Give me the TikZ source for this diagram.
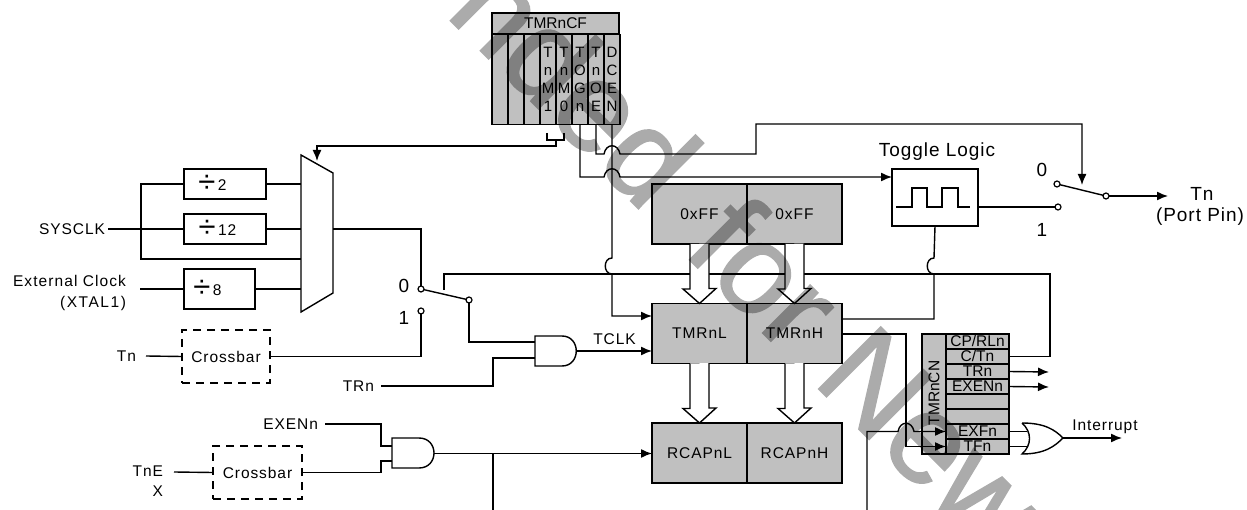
\documentclass[tikz,border=0pt]{standalone}
\usepackage{fontspec}
\setmainfont{Liberation Sans}
\newfontfamily\wmfont[FakeBold=1.5]{Liberation Sans}
\usetikzlibrary{arrows.meta,calc}
\definecolor{regfill}{RGB}{192,192,192}
\tikzset{
  wire/.style={line width=1.4pt,line join=miter,line cap=butt},
  tipped/.style={wire,-{Latex[length=11pt,width=9pt]}},
  plain/.style={draw=black,line width=1.4pt,fill=white,inner sep=0pt,outer sep=0pt,
    font=\fontsize{15.5}{18}\selectfont\addfontfeature{LetterSpace=6}},
  dashbox/.style={plain,dash pattern=on 8pt off 6pt,fill=none},
  reg/.style={plain,fill=regfill,font=\fontsize{15.5}{18}\selectfont},
  blk/.style={reg,minimum width=95,minimum height=60,
    font=\fontsize{15.5}{18}\selectfont\addfontfeature{LetterSpace=6}},
  regrow/.style={reg,minimum width=63,minimum height=15,text height=10,text depth=0},
  colcell/.style={reg,minimum width=16,minimum height=90},
  contact/.style={circle,draw=black,line width=1.2pt,fill=white,inner sep=0pt,minimum size=6pt,outer sep=0pt},
  lab/.style={inner sep=0pt,outer sep=0pt,font=\fontsize{15.5}{18}\selectfont\addfontfeature{LetterSpace=6}},
  biglab/.style={inner sep=0pt,outer sep=0pt,font=\fontsize{19}{22}\selectfont\addfontfeature{LetterSpace=5}},
  gate/.style={inner sep=0pt,outer sep=0pt,draw=none,fill=none},
  hollow/.style={draw=black,line width=1.4pt,fill=white,line join=miter}
}
\newcommand{\dv}[2]{\hspace*{#2}{\fontsize{31}{20}\selectfont\raisebox{-2pt}{÷}}\,#1}
\begin{document}
\begin{tikzpicture}[x=1pt,y=-1pt]
\useasboundingbox (0,0) rectangle (1247,510);

% ---- nodes: TMRnCF
\node[reg,minimum width=127,minimum height=21] (cfhead) at (555.5,23.5) {TMRnCF};
\foreach \n/\x in {ca/500,cb/516,cc/532}
  \node[colcell] (\n) at (\x,79.5) {};
\node[colcell,align=center,font=\fontsize{15}{18}\selectfont] (tm1) at (548,79.5) {T\\n\\M\\1};
\node[colcell,align=center,font=\fontsize{15}{18}\selectfont] (tm0) at (564,79.5) {T\\n\\M\\0};
\node[colcell,align=center,font=\fontsize{15}{18}\selectfont] (tog) at (580,79.5) {T\\O\\G\\n};
\node[colcell,align=center,font=\fontsize{15}{18}\selectfont] (toe) at (596,79.5) {T\\n\\O\\E};
\node[colcell,align=center,font=\fontsize{15}{18}\selectfont] (dcen) at (612,79.5) {D\\C\\E\\N};

% ---- clock dividers and mux
\node[plain,minimum width=82,minimum height=30] (d2) at (225,184) {\dv{2}{-25pt}};
\node[plain,minimum width=82,minimum height=30] (d12) at (225,229) {\dv{12}{-15pt}};
\node[plain,minimum width=71,minimum height=40] (d8) at (219.5,289) {\dv{8}{-24pt}};
\node[gate,minimum width=32,minimum height=157] (mux) at (317,233.5) {};
\draw[wire,fill=white] (301,155) -- (333,173) -- (333,293) -- (301,312) -- cycle;
\node[lab,anchor=east] (sys) at (105,229) {SYSCLK};
\node[lab,anchor=east] (ext1) at (126,281) {\addfontfeature{LetterSpace=7}External Clock};
\node[lab,anchor=east] (ext2) at (126,303) {\addfontfeature{LetterSpace=10}(XTAL1)};
\node[lab,anchor=east] (tnlab) at (136,356) {Tn};
\node[dashbox,minimum width=88,minimum height=53] (cb1) at (226,356.5) {Crossbar};
\node[lab,anchor=east] (trn) at (374,386) {TRn};
\node[biglab] (zero1) at (404,286) {0};
\node[biglab] (one1) at (404,318) {1};
\node[contact] (c0) at (421,289) {};
\node[contact] (c1) at (421,311) {};
\node[contact] (piv) at (469,300) {};

% AND gates
\node[gate,minimum width=42,minimum height=30] (and1) at (556,351) {};
\draw[wire] (535,336) -- (562,336) .. controls (581,336) and (581,366) .. (562,366) -- (535,366) -- cycle;
\node[gate,minimum width=42,minimum height=30] (and2) at (413,453) {};
\draw[wire] (392,438) -- (419,438) .. controls (439,438) and (439,468) .. (419,468) -- (392,468) -- cycle;
\node[lab,anchor=east] (exen) at (318,424) {EXENn};
\node[lab,anchor=east] (tne1) at (163,471) {TnE};
\node[lab,anchor=east] (tne2) at (163,491) {X};
\node[dashbox,minimum width=89,minimum height=53] (cb2) at (257.5,472.5) {Crossbar};

% counter blocks
\node[blk] (ffl) at (699.5,214) {0xFF};
\node[blk] (ffr) at (794.5,214) {0xFF};
\node[blk] (tl) at (699.5,333.5) {TMRnL};
\node[blk] (th) at (794.5,333.5) {TMRnH};
\node[blk] (rl) at (699.5,453) {RCAPnL};
\node[blk] (rh) at (794.5,453) {RCAPnH};
\node[lab] (tclk) at (614.5,339) {TCLK};

% toggle
\node[plain,minimum width=86,minimum height=57] (tog2) at (935,197.5) {};
\node[biglab] (toglab) at (937,152) {Toggle Logic};
\draw[wire] (896,207) -- (912,207) -- (912,188) -- (927,188) -- (927,207) -- (942,207) -- (942,188) -- (958,188) -- (958,207) -- (970,207);
\node[contact] (o0) at (1057,184) {};
\node[contact] (o1) at (1058,207) {};
\node[contact] (opiv) at (1106,196) {};
\node[biglab] (zero2) at (1042,170) {0};
\node[biglab] (one2) at (1042,230) {1};
\node[biglab] (port1) at (1202,194) {Tn};
\node[biglab] (port2) at (1200,217) {(Port Pin)};
\coordinate (ptip) at (1168,196);
\coordinate (swctl) at (1082,185);

% TMRnCN register
\node[reg,minimum width=24,minimum height=120] (cnside) at (934,394) {};
\node[inner sep=0pt,rotate=90,font=\fontsize{15.5}{18}\selectfont] (cnlab) at (934,393) {TMRnCN};
\foreach \n/\y/\t in {rcp/341.5/CP\slash RLn,rct/356.5/C\slash Tn,rtr/371.5/TRn,rex/386.5/EXENn,re1/401.5/,re2/416.5/,rxf/431.5/EXFn,rtf/446.5/TFn}
  \node[regrow] (\n) at (977.5,\y) {\t};
\draw[wire] (cnside.north west) rectangle (rtf.south east);
\coordinate (trnend) at (1049,372);
\coordinate (exend) at (1049,387);

% OR gate
\node[gate,minimum width=41,minimum height=31] (orgate) at (1042.5,438.5) {};
\coordinate (ora) at (1027,431.5);
\coordinate (orb) at (1027,446.5);
\draw[wire] (1022,423) .. controls (1045,423) and (1055,430) .. (1063,438) .. controls (1055,446) and (1045,454) .. (1022,454) .. controls (1032,445) and (1032,432) .. (1022,423);
\node[lab] (intlab) at (1105,427) {Interrupt};
\coordinate (intend) at (1122,438);

% ---- connectors
\draw[wire] (547,133) -- (547,140) -- (564,140) -- (564,133);
\draw[tipped] (556,140) -- (556,146) -| (317,161);
\draw[wire] (sys.east) ++(3,0) -- (d12.west);
\draw[wire] (d2.west) -- (141,184) |- (mux.west |- 0,259);
\draw[wire] (d2.east) -- (mux.west |- d2);
\draw[wire] (d12.east) -- (mux.west |- d12);
\draw[wire] (d8.east) -- (mux.west |- d8);
\draw[wire] (140,289) -- (d8.west);
\draw[wire] (146,356) -- (cb1.west);
\draw[wire] (cb1.east) -| (c1.south);
\draw[wire] (333,229) -| (c0.north);
\draw[wire] (c0) -- (piv);
\draw[wire] (piv.south) |- (and1.west |- 0,342);
\draw[wire] (trn.east) ++(7,0) -| (493,358) -- (and1.west |- 0,358);
\draw[tipped] (577,351) -- (tl.west |- 0,351);
\draw[tipped] (dcen.south) -- (612,258) .. controls (603,258) and (603,274) .. (612,274) |- (tl.west |- 0,316);
\draw[wire] (444,290) |- (1050,274) |- (rct.east);
\draw[tipped] (tog.south) |- (604,177) .. controls (606,166) and (618,166) .. (620,177) -- (tog2.west |- 0,177);
\draw[tipped] (toe.south) |- (604,154) .. controls (606,143) and (618,143) .. (620,154) -- (756,154) |- (1082,124) -- (swctl);
\draw[wire] (tog2.south) -- (934,258) .. controls (925,258) and (925,274) .. (934,274) |- (th.east |- 0,319);
\draw[wire] (tog2.east |- o1) -- (o1.west);
\draw[wire] (o0) -- (opiv);
\draw[tipped] (opiv.east) -- (ptip);
\draw[tipped] (th.east |- 0,334) -| (906,446.5) -- (rtf.west);
\draw[tipped] (867,510) |- (898,431.5) .. controls (900,420.5) and (912,420.5) .. (914,431.5) -- (rxf.west);
\draw[tipped] (rtr.east) -- (trnend);
\draw[tipped] (rex.east) -- (exend);
\draw[wire] (rxf.east) -- (ora);
\draw[wire] (rtf.east) -- (orb);
\draw[tipped] (1063,438) -- (intend);
\draw[wire] (exen.east) ++(7,0) -| (381,446) -- (and2.west |- 0,446);
\draw[wire] (174,472) -- (cb2.west);
\draw[wire] (cb2.east) -| (381,461) -- (and2.west |- 0,461);
\draw[tipped] (434,453.5) -- (rl.west |- 0,453.5);
\draw[wire] (493,453.5) -- (493,510);

% hollow bus arrows
\draw[hollow] (ffl.south) ++(-9.5,0) -- ++(0,45) -- ++(-7,0) -- (tl.north) -- ++(16.5,-15) -- ++(-7,0) -- ++(0,-45);
\draw[hollow] (ffr.south) ++(-9.5,0) -- ++(0,45) -- ++(-7,0) -- (th.north) -- ++(16.5,-15) -- ++(-7,0) -- ++(0,-45);
\draw[hollow] (tl.south) ++(-9.5,0) -- ++(0,45) -- ++(-7,0) -- (rl.north) -- ++(16.5,-15) -- ++(-7,0) -- ++(0,-45);
\draw[hollow] (th.south) ++(-9.5,0) -- ++(0,45) -- ++(-7,0) -- (rh.north) -- ++(16.5,-15) -- ++(-7,0) -- ++(0,-45);

% watermark
\begin{scope}
\clip (0,0) rectangle (1247,510);
\begin{scope}[transparency group,opacity=0.33]
\node[anchor=base west,rotate=-45,inner sep=0pt,outer sep=0pt,text=black,font=\fontsize{127}{127}\selectfont\wmfont] (wm) at (682,252) {\llap{nded\hspace{18pt} }for New};
\end{scope}
\end{scope}
\end{tikzpicture}
\end{document}
